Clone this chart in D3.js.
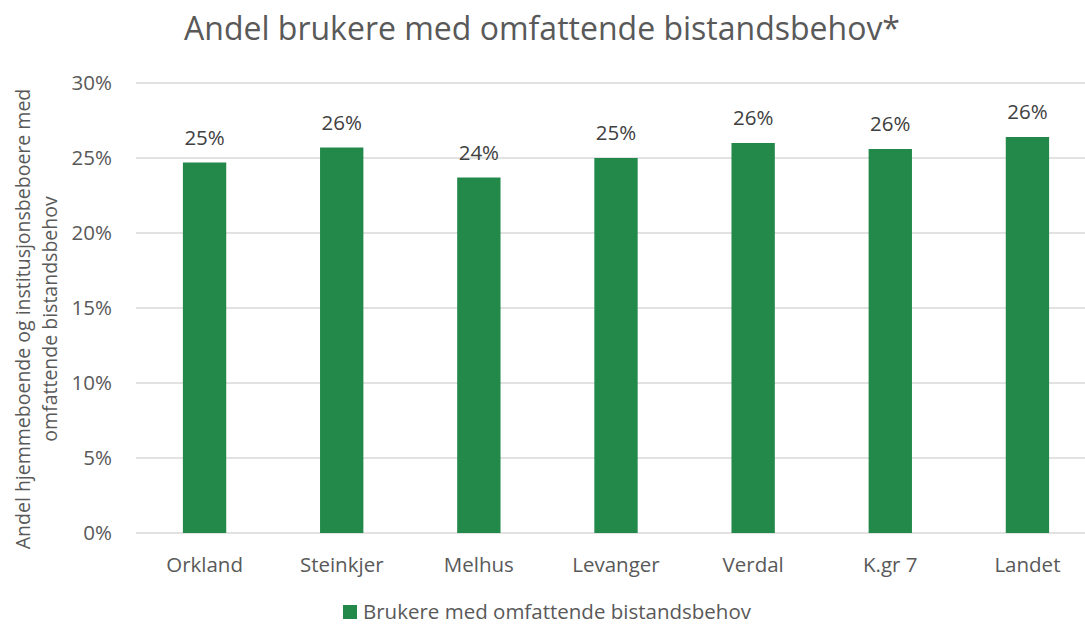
<!doctype html>
<html>
<head>
<meta charset="utf-8">
<script src="https://cdn.jsdelivr.net/npm/d3@7"></script>
<style>
html, body { margin: 0; background: #fff; overflow: hidden; }
svg { font-family: "Open Sans", sans-serif; }
</style>
</head>
<body>
<script>
var categories = ["Orkland", "Steinkjer", "Melhus", "Levanger", "Verdal", "K.gr 7", "Landet"];
var values = [24.7, 25.7, 23.7, 25.0, 26.0, 25.6, 26.4];
var yTicks = [0, 5, 10, 15, 20, 25, 30];
var seriesName = "Brukere med omfattende bistandsbehov";
var title = "Andel brukere med omfattende bistandsbehov*";
var yTitle = ["Andel hjemmeboende og institusjonsbeboere med", "omfattende bistandsbehov"];

(function(){
    var w = 1085, h = 625,
        plotL = 136, plotR = 1096, plotT = 83, plotB = 533,
        green = "#23894a",
        fs = "20.5px";

    var svg = d3.select("body").append("svg")
        .attr("width", w)
        .attr("height", h);

    var x = d3.scaleBand().domain(categories).range([plotL, plotR]).paddingInner(0.684).paddingOuter(0.342);
    var y = d3.scaleLinear().domain([0, 30]).range([plotB, plotT]);

    // gridlines
    svg.append("g").selectAll("line")
        .data(yTicks)
        .enter().append("line")
        .attr("x1", plotL).attr("x2", plotR)
        .attr("y1", function(d){ return y(d) }).attr("y2", function(d){ return y(d) })
        .attr("stroke", "#d9d9d9").attr("stroke-width", 1.3);

    // y axis labels
    var yAxis = svg.append("g")
        .attr("transform", "translate(" + (plotL - 24) + ",0)")
        .call(d3.axisLeft(y).tickValues(yTicks).tickSize(0).tickPadding(0).tickFormat(function(d){ return d + "%" }));
    yAxis.select(".domain").remove();
    yAxis.selectAll("text").attr("fill", "#595959").style("font-size", fs).style("font-family", "Open Sans");

    // x axis labels
    var xAxis = svg.append("g")
        .attr("transform", "translate(0," + plotB + ")")
        .call(d3.axisBottom(x).tickSize(0).tickPadding(24));
    xAxis.select(".domain").remove();
    xAxis.selectAll("text").attr("fill", "#595959").style("font-size", fs).style("font-family", "Open Sans");

    // bars
    svg.append("g").selectAll("rect")
        .data(values)
        .enter().append("rect")
        .attr("x", function(d, i){ return x(categories[i]) })
        .attr("width", x.bandwidth())
        .attr("y", function(d){ return y(d) })
        .attr("height", function(d){ return plotB - y(d) })
        .attr("fill", green);

    // data labels
    svg.append("g").selectAll("text")
        .data(values)
        .enter().append("text")
        .attr("x", function(d, i){ return x(categories[i]) + x.bandwidth() / 2 })
        .attr("y", function(d){ return y(d) - 18 })
        .attr("text-anchor", "middle")
        .attr("fill", "#404040")
        .style("font-size", fs)
        .text(function(d){ return Math.round(d) + "%" });

    // title
    svg.append("text")
        .attr("x", 542).attr("y", 40)
        .attr("text-anchor", "middle")
        .attr("fill", "#595959")
        .style("font-size", "32px")
        .text(title);

    // y axis title
    var yt = svg.append("text")
        .attr("transform", "translate(30,319) rotate(-90)")
        .attr("text-anchor", "middle")
        .attr("fill", "#595959")
        .style("font-size", "19.5px");
    yt.selectAll("tspan").data(yTitle).enter().append("tspan")
        .attr("x", 0)
        .attr("dy", function(d, i){ return i ? 27 : 0 })
        .text(function(d){ return d });

    // legend
    var lg = svg.append("g").attr("transform", "translate(343,605)");
    lg.append("rect").attr("width", 14).attr("height", 14).attr("fill", green);
    lg.append("text").attr("x", 20).attr("y", 14)
        .attr("fill", "#595959").style("font-size", fs)
        .text(seriesName);
})();
</script>
</body>
</html>
